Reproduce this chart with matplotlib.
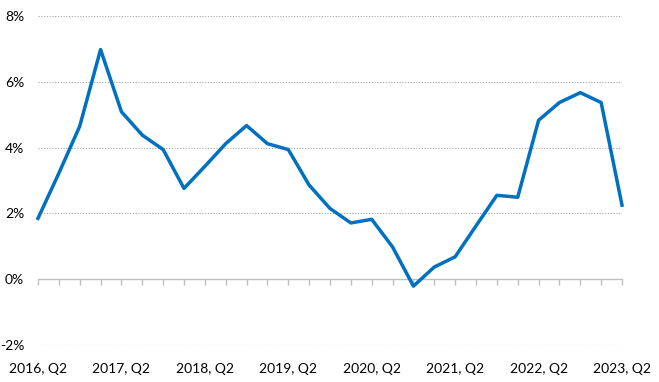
import numpy as np
import matplotlib.pyplot as plt
from matplotlib.ticker import FixedLocator, FuncFormatter

# quarterly growth, 2016 Q2 .. 2023 Q2
quarters = [f"{y}, Q{q}" for y in range(2016, 2024) for q in range(1, 5)][1:30]
growth = [1.85, 3.22, 4.65, 6.98, 5.09, 4.38, 3.94, 2.76, 3.43, 4.12,
          4.67, 4.12, 3.94, 2.86, 2.15, 1.71, 1.82, 0.98, -0.21, 0.37,
          0.68, 1.62, 2.55, 2.49, 4.83, 5.37, 5.67, 5.37, 2.25]
y_ticks = [-2, 0, 2, 4, 6, 8]

plt.rcParams["font.family"] = ["Lato", "DejaVu Sans"]

fig = plt.figure(figsize=(6.59, 3.82), dpi=100)
ax = fig.add_axes([38 / 659, 1 - 345 / 382, (622 - 38) / 659, (345 - 16) / 382])

x = np.arange(len(growth))
ax.plot(x, growth, color="#0070C0", lw=2.5, zorder=3, clip_on=False)

ax.set_xlim(0, len(growth) - 1)
ax.set_ylim(-2, 8)

# dotted gridlines
for v in y_ticks:
    if v != 0:
        ax.axhline(v, color="#A6A6A6", lw=0.8, ls=(0, (1, 1.5)), zorder=1)

ax.set_yticks(y_ticks)
ax.yaxis.set_major_formatter(FuncFormatter(lambda v, p: f"{v:.0f}%"))
ax.tick_params(axis="y", length=0, pad=10, labelsize=10, colors="#000000")

for s in ["top", "right", "left"]:
    ax.spines[s].set_visible(False)
ax.spines["bottom"].set_position(("data", 0))
ax.spines["bottom"].set_color("#BFBFBF")
ax.spines["bottom"].set_linewidth(1.0)
ax.xaxis.set_major_locator(FixedLocator(list(x)))
ax.tick_params(axis="x", which="major", direction="out", length=4, width=1.0,
               color="#BFBFBF", labelbottom=False)

# category labels placed low, below the -2% line
sec = ax.secondary_xaxis("bottom")
sec.set_xticks(x[::4])
sec.set_xticklabels([quarters[i] for i in range(0, len(quarters), 4)])
sec.tick_params(length=0, pad=13, labelsize=10)
sec.spines["bottom"].set_visible(False)

fig.savefig("out.png", dpi=100)
plt.close(fig)
